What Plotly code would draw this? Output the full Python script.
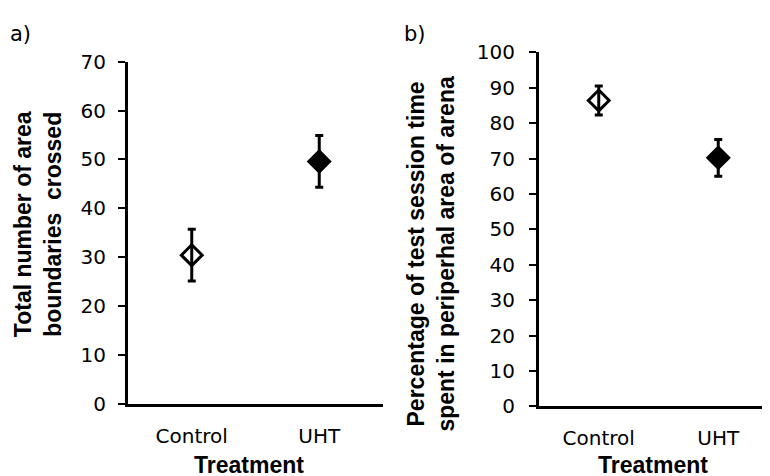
import plotly.graph_objects as go

groups = ["Control", "UHT"]
crossed_mean = [30.4, 49.6]
crossed_err = [5.3, 5.3]
periph_mean = [86.4, 70.2]
periph_err = [4.1, 5.2]
symbols = ["diamond-open", "diamond"]

fig = go.Figure()

# panel a
for i in range(2):
	fig.add_trace(go.Scatter(x=[groups[i]], y=[crossed_mean[i]], mode="markers",
		error_y=dict(type="data", array=[crossed_err[i]], color="black", thickness=3, width=4),
		marker=dict(symbol=symbols[i], size=16, color="black", line=dict(color="black", width=3)),
		xaxis="x", yaxis="y", showlegend=False))

# panel b
for i in range(2):
	fig.add_trace(go.Scatter(x=[groups[i]], y=[periph_mean[i]], mode="markers",
		error_y=dict(type="data", array=[periph_err[i]], color="black", thickness=3, width=4),
		marker=dict(symbol=symbols[i], size=16, color="black", line=dict(color="black", width=3)),
		xaxis="x2", yaxis="y2", showlegend=False))

tickfont = dict(family="DejaVu Sans", size=20, color="black")
titlefont = dict(family="Liberation Sans", size=23, color="black")

xcommon = dict(type="category", range=[-0.5, 1.5], showline=True, linecolor="black", linewidth=3,
	showgrid=False, zeroline=False, ticks="", tickfont=tickfont, ticklabelstandoff=12)
ycommon = dict(showline=True, linecolor="black", linewidth=3, showgrid=False, zeroline=False,
	ticks="outside", ticklen=7, tickwidth=2, tickcolor="black", tickfont=tickfont, dtick=10)

fig.update_layout(
	width=770, height=476, margin=dict(l=0, r=0, t=0, b=0),
	plot_bgcolor="white", paper_bgcolor="white",
	xaxis=dict(domain=[120/770, 375/770], anchor="y", **xcommon),
	yaxis=dict(domain=[72/476, 432/476], anchor="x", range=[0, 70], ticklabelstandoff=8, **ycommon),
	xaxis2=dict(domain=[531/770, 1.0], anchor="y2", **xcommon),
	yaxis2=dict(domain=[69/476, 442/476], anchor="x2", range=[0, 100], ticklabelstandoff=10, **ycommon),
)

annots = [
	dict(text="a)", x=0, y=1 - 15/476, xanchor="left", yanchor="middle", font=dict(family="DejaVu Sans", size=21, color="black")),
	dict(text="b)", x=394/770, y=1 - 15/476, xanchor="left", yanchor="middle", font=dict(family="DejaVu Sans", size=21, color="black")),
	dict(text="<b>Total number of area<br>boundaries  crossed</b>", x=30/770, y=1 - 215/476, textangle=-90,
		xanchor="center", yanchor="middle", font=titlefont),
	dict(text="<b>Percentage of test session time<br>spent in periperhal area of arena</b>", x=423/770, y=1 - 246/476,
		textangle=-90, xanchor="center", yanchor="middle", font=titlefont),
	dict(text="<b>Treatment</b>", x=241/770, y=1 - 469/476, xanchor="center", yanchor="middle", font=titlefont),
	dict(text="<b>Treatment</b>", x=645/770, y=1 - 469/476, xanchor="center", yanchor="middle", font=titlefont),
]
for a in annots:
	fig.add_annotation(xref="paper", yref="paper", showarrow=False, **a)

fig.write_html("out.html")
